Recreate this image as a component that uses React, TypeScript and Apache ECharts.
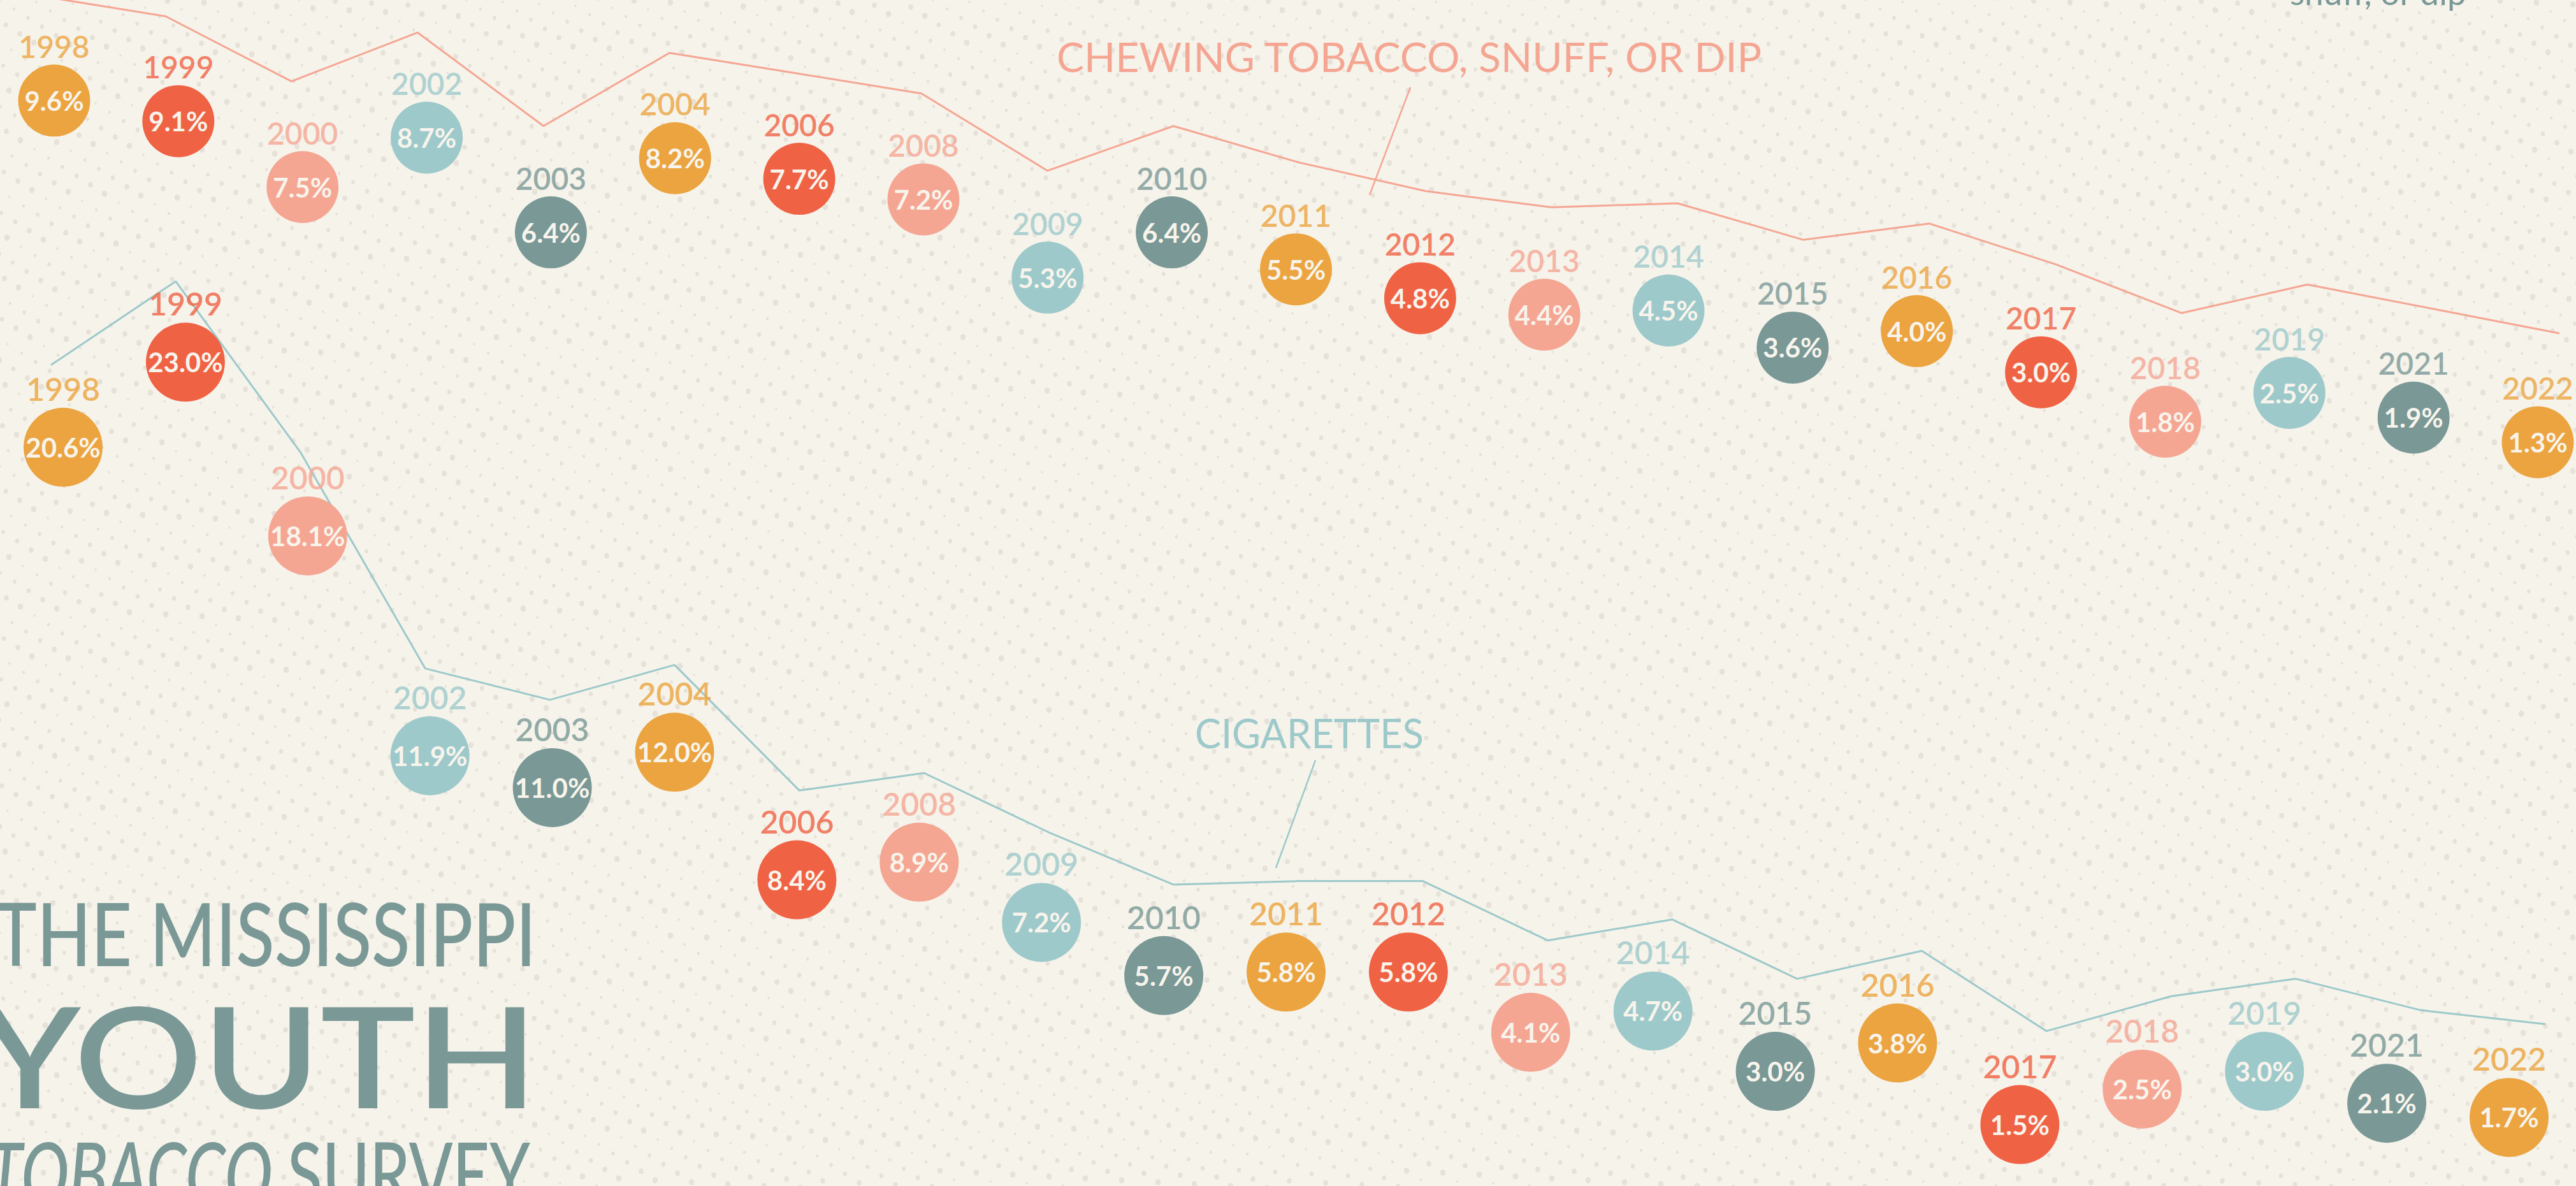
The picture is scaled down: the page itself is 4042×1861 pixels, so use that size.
import React, { useEffect, useRef } from 'react';
import * as echarts from 'echarts';

// ---------------- data ----------------
const YEARS = ['1998', '1999', '2000', '2002', '2003', '2004', '2006', '2008', '2009', '2010', '2011', '2012', '2013', '2014', '2015', '2016', '2017', '2018', '2019', '2021', '2022'];
const CHEW = [9.6, 9.1, 7.5, 8.7, 6.4, 8.2, 7.7, 7.2, 5.3, 6.4, 5.5, 4.8, 4.4, 4.5, 3.6, 4.0, 3.0, 1.8, 2.5, 1.9, 1.3];
const CIG = [20.6, 23.0, 18.1, 11.9, 11.0, 12.0, 8.4, 8.9, 7.2, 5.7, 5.8, 5.8, 4.1, 4.7, 3.0, 3.8, 1.5, 2.5, 3.0, 2.1, 1.7];
const CHEW_LABEL = 'CHEWING TOBACCO, SNUFF, OR DIP';
const CIG_LABEL = 'CIGARETTES';

// ---------------- style ----------------
const W = 4042;
const H = 1861;
const BG = '#f6f3eb';
const DOT = '#e6e2da';
const CREAM = '#f8f4ec';
const SLATE = '#799896';
const SALMON = '#f5a693';
const TEAL = '#9dc9ca';
const PALETTE = ['#eba43f', '#f06244', SALMON, TEAL, SLATE];
const FAMILY = 'Lato, "Noto Sans", sans-serif';
const CENTRAL = 0.37; // offset (em) between central and alphabetic baseline

function makeDots(): HTMLCanvasElement {
  const T = 732;
  const c = document.createElement('canvas');
  c.width = T;
  c.height = T;
  const ctx = c.getContext('2d')!;
  ctx.fillStyle = DOT;
  for (let i = -90; i <= 90; i++) {
    for (let j = -90; j <= 90; j++) {
      const x = i * 22 + j * 35;
      const y = i * 14 - j * 11;
      if (x < 0 || x >= T || y < 0 || y >= T) continue;
      const r = 1.8 + ((((i * 7 + j * 11) % 6) + 6) % 6) * 0.5;
      for (const dx of [-T, 0, T]) {
        for (const dy of [-T, 0, T]) {
          ctx.beginPath();
          ctx.ellipse(x + dx, y + dy, r, r * 1.12, 0, 0, Math.PI * 2);
          ctx.fill();
        }
      }
    }
  }
  return c;
}

let measureCtx: CanvasRenderingContext2D | null = null;
function measure(text: string, font: string): number {
  if (!measureCtx) measureCtx = document.createElement('canvas').getContext('2d');
  measureCtx!.font = font;
  return measureCtx!.measureText(text).width;
}

function fittedText(text: string, font: string, size: number, left: number, baseline: number, width: number, fill: string) {
  const s = width / measure(text, font);
  return {
    type: 'text',
    x: left,
    y: baseline - CENTRAL * size,
    scaleX: s,
    z: 5,
    silent: true,
    style: { text, font, fill, textAlign: 'left', align: 'left', textVerticalAlign: 'middle', verticalAlign: 'middle' },
  };
}

function valueOf(p: any): number {
  return Array.isArray(p.value) ? p.value[1] : p.value;
}

function bubbles(values: number[], gi: number, size: number, yearSize: number) {
  const pairs = values.map((v, i) => [YEARS[i], v]);
  return [
    {
      type: 'scatter',
      xAxisIndex: gi,
      yAxisIndex: gi,
      data: pairs,
      symbolSize: size,
      z: 4,
      silent: true,
      itemStyle: { color: (p: any) => PALETTE[p.dataIndex % PALETTE.length], opacity: 1 },
      label: {
        show: true,
        position: 'inside',
        formatter: (p: any) => `${valueOf(p).toFixed(1)}%`,
        color: CREAM,
        fontFamily: FAMILY,
        fontSize: 42,
        fontWeight: 700,
      },
    },
    {
      type: 'scatter',
      xAxisIndex: gi,
      yAxisIndex: gi,
      symbolSize: size,
      z: 5,
      silent: true,
      itemStyle: { color: 'rgba(0,0,0,0)' },
      data: pairs.map((d, i) => ({ value: d, label: { color: PALETTE[i % PALETTE.length] } })),
      label: {
        show: true,
        position: 'top',
        distance: 5,
        formatter: (p: any) => YEARS[p.dataIndex],
        fontFamily: FAMILY,
        fontSize: yearSize,
        lineHeight: yearSize,
        fontWeight: 600,
      },
    },
  ];
}

function trend(values: number[], gi: number, color: string) {
  return {
    type: 'line',
    xAxisIndex: gi,
    yAxisIndex: gi,
    data: values.map((v, i) => [YEARS[i], v]),
    symbol: 'none',
    clip: false,
    z: 2,
    silent: true,
    lineStyle: { color, width: 3 },
  };
}

function buildOption() {
  // 0: chewing bubbles, 1: chewing line, 2: cigarette bubbles, 3: cigarette line
  const grids = [
    { left: 85, right: 60, top: 132, height: 646 },
    { left: 62, right: 26, top: 0, height: 606 },
    { left: 99, right: 105, top: 457, height: 1391 },
    { left: 80, right: 48, top: 332, height: 1368 },
  ];
  const yMax = [10, 9.5, 25, 25];

  const titleFont = (w: number, size: number, style = 'normal') => `${style} ${w} ${size}px ${FAMILY}`;
  const tobFont = titleFont(500, 137, 'italic');
  const survFont = titleFont(500, 137);
  const tobW = measure('TOBACCO ', tobFont);
  const survW = measure('SURVEY', survFont);
  const tobScale = 852 / (tobW + survW);

  const graphic: any[] = [
    {
      type: 'rect',
      z: 0,
      silent: true,
      shape: { x: 0, y: 0, width: W, height: H },
      style: { fill: { image: makeDots(), repeat: 'repeat', imageWidth: 732, imageHeight: 732 } },
    },
    fittedText(CHEW_LABEL, titleFont(400, 63), 63, 1658, 112, 1109, SALMON),
    { type: 'line', z: 5, silent: true, shape: { x1: 2213, y1: 137, x2: 2149, y2: 306 }, style: { stroke: SALMON, lineWidth: 2.5 } },
    fittedText(CIG_LABEL, titleFont(400, 64), 64, 1875, 1173, 359, TEAL),
    { type: 'line', z: 5, silent: true, shape: { x1: 2064, y1: 1193, x2: 2002, y2: 1362 }, style: { stroke: TEAL, lineWidth: 2.5 } },
    fittedText('snuff, or dip', titleFont(400, 52), 52, 3593, 7, 278, SLATE),
    fittedText('THE MISSISSIPPI', titleFont(500, 137), 137, -8, 1514, 849, SLATE),
    fittedText('YOUTH', titleFont(600, 219), 219, -33, 1735, 877, SLATE),
    {
      type: 'text', x: -20, y: 1890 - CENTRAL * 137, scaleX: tobScale, z: 5, silent: true,
      style: { text: 'TOBACCO', font: tobFont, fill: SLATE, textAlign: 'left', align: 'left', textVerticalAlign: 'middle', verticalAlign: 'middle' },
    },
    {
      type: 'text', x: -20 + tobW * tobScale, y: 1890 - CENTRAL * 137, scaleX: tobScale, z: 5, silent: true,
      style: { text: 'SURVEY', font: survFont, fill: SLATE, textAlign: 'left', align: 'left', textVerticalAlign: 'middle', verticalAlign: 'middle' },
    },
  ];

  return {
    animation: false,
    backgroundColor: BG,
    grid: grids.map((g) => ({ ...g, containLabel: false })),
    xAxis: grids.map((_, i) => ({ type: 'category', gridIndex: i, data: YEARS, boundaryGap: false, show: false })),
    yAxis: grids.map((_, i) => ({ type: 'value', gridIndex: i, min: 0, max: yMax[i], show: false, splitLine: { show: false } })),
    graphic,
    series: [
      trend(CHEW, 1, SALMON),
      trend(CIG, 3, TEAL),
      ...bubbles(CHEW, 0, 113, 48),
      ...bubbles(CIG, 2, 124, 50),
    ],
  };
}

export default function App() {
  const ref = useRef<HTMLDivElement>(null);
  useEffect(() => {
    const chart = echarts.init(ref.current!, null, { renderer: 'svg', width: W, height: H });
    chart.setOption(buildOption() as any);
    return () => chart.dispose();
  }, []);
  return <div ref={ref} style={{ position: 'absolute', left: 0, top: 0, width: W, height: H, background: BG }} />;
}
